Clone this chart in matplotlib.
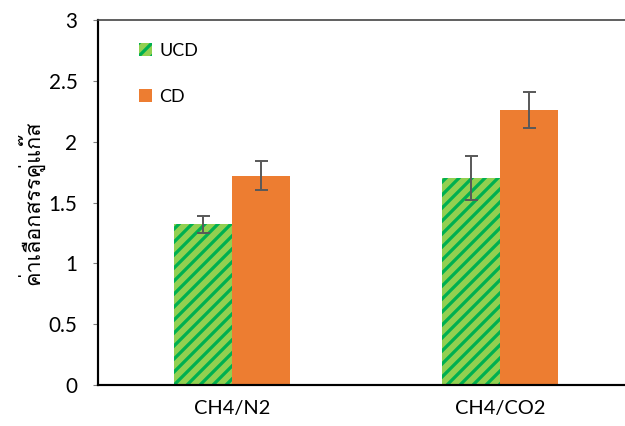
import matplotlib
matplotlib.use('Agg')
import matplotlib.pyplot as plt
import numpy as np
from matplotlib import font_manager
from matplotlib.ft2font import FT2Font

# ค่าเลือกสรรคู่แก๊ส ของเมมเบรน UCD / CD
categories = ['CH4/N2', 'CH4/CO2']
series = ['UCD', 'CD']
ucd_vals = [1.32, 1.70]
ucd_err = [0.07, 0.18]
cd_vals = [1.72, 2.26]
cd_err = [0.12, 0.15]
y_ticks = [0, 0.5, 1, 1.5, 2, 2.5, 3]
y_label = 'ค่าเลือกสรรคู่แก๊ส'


def find_thai_font():
    """หาฟอนต์ที่มีอักษรไทย (ค)"""
    for f in font_manager.fontManager.ttflist:
        try:
            if 0x0E04 in FT2Font(f.fname).get_charmap():
                return f.name
        except Exception:
            pass
    return 'DejaVu Sans'


THAI = find_thai_font()
DPI = 78
plt.rcParams['font.family'] = ['Lato', THAI, 'DejaVu Sans']
plt.rcParams['hatch.linewidth'] = 3.0

fig = plt.figure(figsize=(625 / DPI, 426 / DPI), dpi=DPI)
ax = fig.add_axes([98 / 625, 1 - 385 / 426, 536 / 625, 365 / 426])

x = np.arange(len(categories))
w = 0.218
err_kw = dict(ecolor='#595959', elinewidth=1.8, capsize=6, capthick=1.8)
ax.bar(x - w / 2, ucd_vals, w, yerr=ucd_err, color='#92D050', hatch='//',
       edgecolor='#00B050', linewidth=0, label=series[0], error_kw=err_kw)
ax.bar(x + w / 2, cd_vals, w, yerr=cd_err, color='#ED7D31',
       linewidth=0, label=series[1], error_kw=err_kw)

ax.set_xlim(-0.5, 1.5)
ax.set_ylim(0, 3)
ax.set_yticks(y_ticks)
ax.set_yticklabels([f'{t:g}' for t in y_ticks])
ax.set_xticks(x)
ax.set_xticklabels(categories)
ax.tick_params(axis='x', length=0, pad=14, labelsize=18.5)
ax.tick_params(axis='y', length=5, width=1, color='#7f7f7f', pad=14, labelsize=19)

for side in ['left', 'bottom']:
    ax.spines[side].set_linewidth(2)
    ax.spines[side].set_color('black')
ax.spines['top'].set_color('#404040')
ax.spines['top'].set_linewidth(1.5)
ax.spines['right'].set_visible(False)

ax.set_ylabel(y_label, fontsize=20, family=[THAI, 'DejaVu Sans'], labelpad=4)

ax.legend(loc='upper left', bbox_to_anchor=(0.046, 0.982), frameon=False,
          fontsize=16.5, handlelength=0.75, handleheight=0.75, labelspacing=1.7,
          handletextpad=0.4)

fig.savefig('out.png', dpi=DPI)
